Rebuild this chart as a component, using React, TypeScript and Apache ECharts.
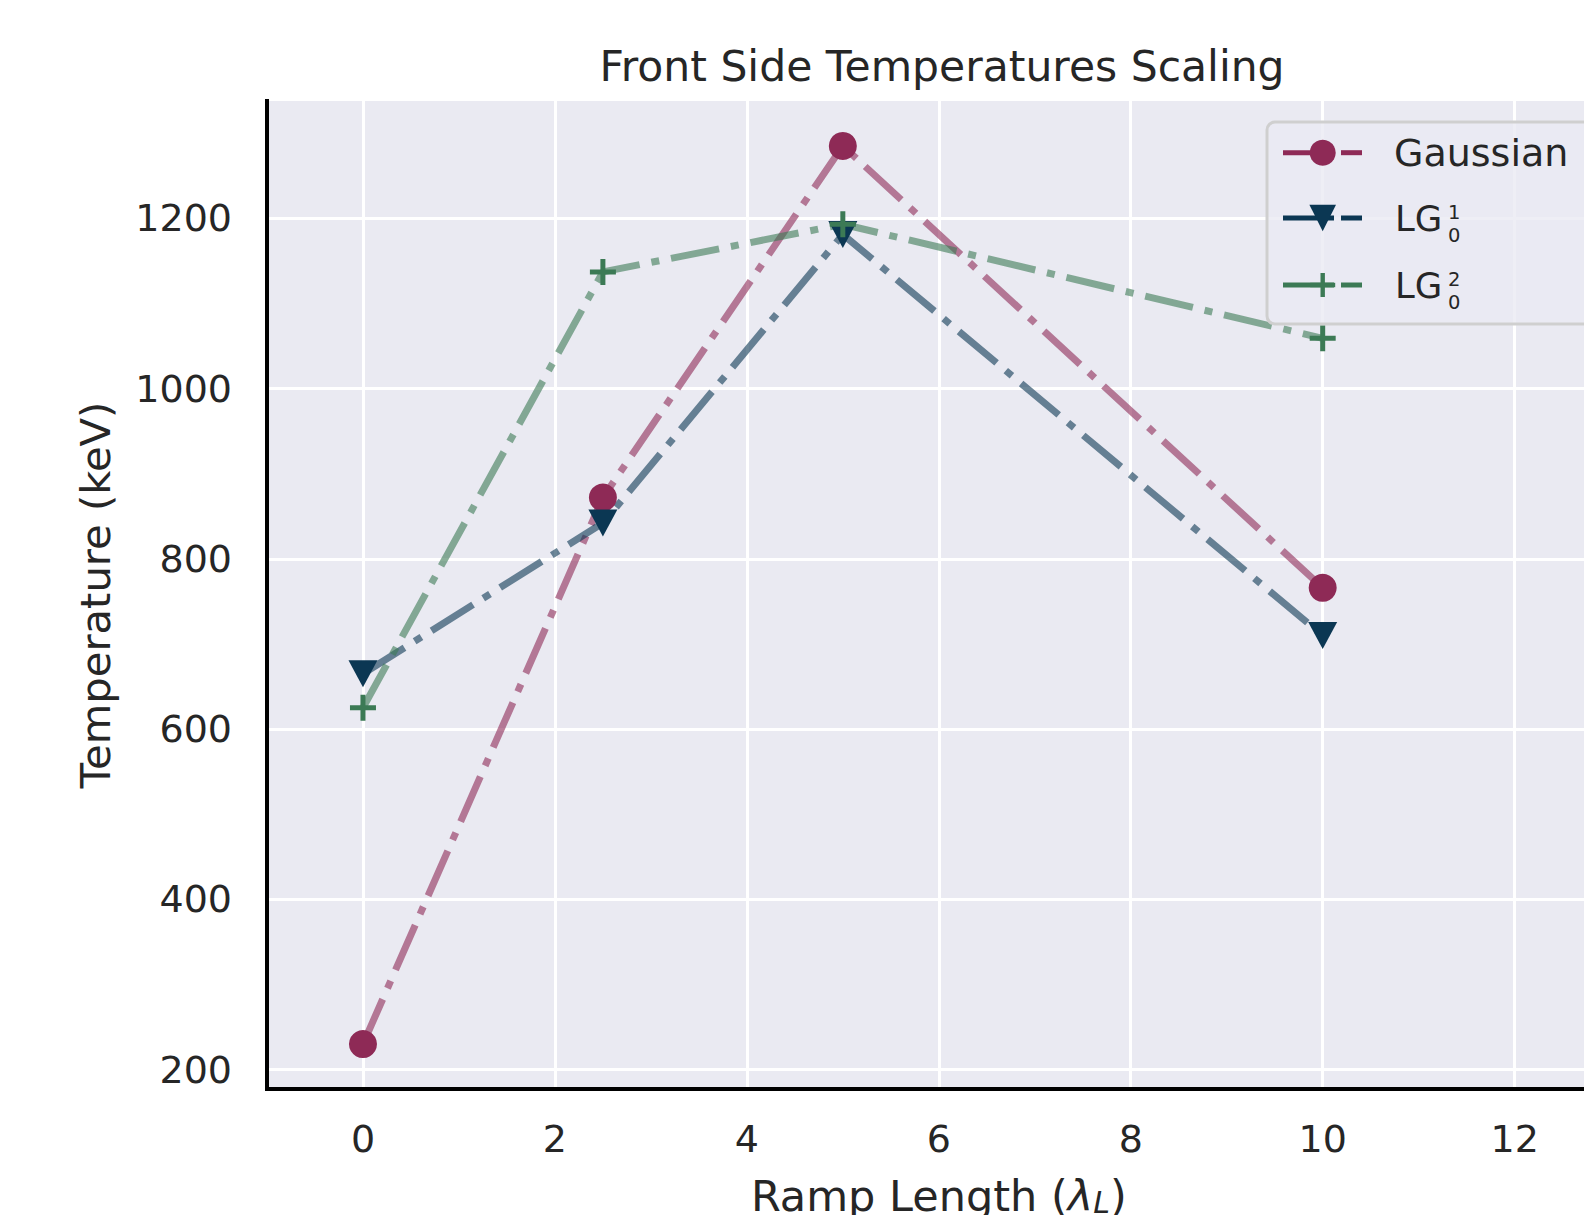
import React, { useEffect, useRef } from "react";
import * as echarts from "echarts";

// ---- data ----
const rampLength = [0, 2.5, 5, 10];
const gaussianTemp = [230, 872, 1285, 766];
const lg01Temp = [665, 842, 1181, 710];
const lg02Temp = [625, 1137, 1193, 1059];

const seriesNames = ["Gaussian", "LG\u2080\u00b9", "LG\u2080\u00b2"];
const titleText = "Front Side Temperatures Scaling";
const xName = "Ramp Length ({i|\u03bb}{sub|L})";
const yName = "Temperature (keV)";

const FONT = "'DejaVu Sans', 'Liberation Sans', sans-serif";
const TEXT = "#262626";
const C_GAUSS = "#8e2a56";
const C_LG1 = "#0b3753";
const C_LG2 = "#3c7a55";
const PLUS_PATH =
  "path://M10.5,0 H15.5 V10.5 H26 V15.5 H15.5 V26 H10.5 V15.5 H0 V10.5 H10.5 Z";

function makeSeries(
  name: string,
  ys: number[],
  color: string,
  symbol: string,
  size: number | number[],
  rotate: number
) {
  return {
    type: "line",
    name,
    data: rampLength.map((x, i) => [x, ys[i]]),
    symbol,
    symbolSize: size,
    symbolRotate: rotate,
    showSymbol: true,
    lineStyle: {
      color,
      opacity: 0.6,
      width: 7,
      type: [49, 12, 8, 12],
      cap: "butt",
    },
    itemStyle: { color, opacity: 1 },
    emphasis: { disabled: true },
  };
}

function legendGraphics() {
  const rows = [
    { main: "Gaussian", sup: "", sub: "", color: C_GAUSS, marker: "circle", y: 152.7 },
    { main: "LG", sup: "1", sub: "0", color: C_LG1, marker: "tri", y: 218 },
    { main: "LG", sup: "2", sub: "0", color: C_LG2, marker: "plus", y: 285 },
  ];
  const els: any[] = [
    {
      type: "rect",
      shape: { x: 1267, y: 122, width: 420, height: 202, r: 8 },
      style: { fill: "rgba(234,234,242,0.8)", stroke: "#cfcfcf", lineWidth: 3 },
      z: 100,
    },
  ];
  const cx = 1322.7;
  rows.forEach((r) => {
    els.push({
      type: "line",
      shape: { x1: 1283, y1: r.y, x2: 1334, y2: r.y },
      style: { stroke: r.color, lineWidth: 5 },
      z: 101,
    });
    els.push({
      type: "line",
      shape: { x1: 1341, y1: r.y, x2: 1362, y2: r.y },
      style: { stroke: r.color, lineWidth: 5 },
      z: 101,
    });
    if (r.marker === "circle") {
      els.push({ type: "circle", shape: { cx, cy: r.y, r: 13 }, style: { fill: r.color }, z: 102 });
    } else if (r.marker === "tri") {
      els.push({
        type: "polygon",
        shape: { points: [[cx - 13.3, r.y - 13.3], [cx + 13.3, r.y - 13.3], [cx, r.y + 13.3]] },
        style: { fill: r.color },
        z: 102,
      });
    } else {
      els.push({ type: "rect", shape: { x: cx - 12.5, y: r.y - 2.2, width: 25, height: 4.4 }, style: { fill: r.color }, z: 102 });
      els.push({ type: "rect", shape: { x: cx - 2.2, y: r.y - 12, width: 4.4, height: 24 }, style: { fill: r.color }, z: 102 });
    }
    if (r.sup) {
      els.push({
        type: "text",
        x: 1395,
        y: r.y,
        style: { text: r.main, fontSize: 35.5, fontFamily: FONT, fill: TEXT, align: "left", verticalAlign: "middle" },
        z: 103,
      });
      els.push({
        type: "text",
        x: 1448,
        y: r.y - 5.5,
        style: { text: r.sup, fontSize: 19.5, fontFamily: FONT, fill: TEXT, align: "left", verticalAlign: "middle" },
        z: 103,
      });
      els.push({
        type: "text",
        x: 1448,
        y: r.y + 17,
        style: { text: r.sub, fontSize: 19.5, fontFamily: FONT, fill: TEXT, align: "left", verticalAlign: "middle" },
        z: 103,
      });
    } else {
      els.push({
        type: "text",
        x: 1394,
        y: r.y,
        style: { text: r.main, fontSize: 38, fontFamily: FONT, fill: TEXT, align: "left", verticalAlign: "middle" },
        z: 103,
      });
    }
  });
  return els;
}

export default function App() {
  const ref = useRef<HTMLDivElement>(null);
  useEffect(() => {
    if (!ref.current) return;
    const chart = echarts.init(ref.current, null, { renderer: "svg" });
    const option: any = {
      animation: false,
      backgroundColor: "#ffffff",
      grid: {
        left: 267,
        top: 101,
        width: 1343.6,
        height: 988,
        show: true,
        backgroundColor: "#EAEAF2",
        borderWidth: 0,
        containLabel: false,
        outerBoundsMode: "none",
      },
      xAxis: {
        type: "value",
        min: -1,
        max: 13,
        splitNumber: 7,
        minInterval: 2,
        maxInterval: 2,
        axisLine: { show: true, onZero: false, lineStyle: { color: "#000", width: 4, cap: "square" } },
        axisTick: { show: false },
        axisLabel: {
          show: true,
          margin: 31,
          fontSize: 38,
          fontFamily: FONT,
          color: TEXT,
          showMinLabel: false,
          showMaxLabel: false,
          formatter: (v: number) => String(v),
        },
        splitLine: { show: true, showMinLine: false, showMaxLine: false, lineStyle: { color: "#ffffff", width: 3 } },
        name: xName,
        nameLocation: "middle",
        nameGap: 85,
        nameTextStyle: {
          fontSize: 43,
          fontFamily: FONT,
          color: TEXT,
          rich: {
            i: { fontSize: 43, fontFamily: FONT, fontStyle: "italic", color: TEXT },
            sub: { fontSize: 30, fontFamily: FONT, fontStyle: "italic", color: TEXT, verticalAlign: "bottom", lineHeight: 19 },
          },
        },
      },
      yAxis: {
        type: "value",
        min: 177.25,
        max: 1337.75,
        splitNumber: 5,
        minInterval: 200,
        maxInterval: 200,
        axisLine: { show: true, onZero: false, lineStyle: { color: "#000", width: 4, cap: "square" } },
        axisTick: { show: false },
        axisLabel: {
          show: true,
          margin: 35,
          fontSize: 38,
          fontFamily: FONT,
          color: TEXT,
          showMinLabel: false,
          showMaxLabel: false,
          formatter: (v: number) => String(v),
        },
        splitLine: { show: true, showMinLine: false, showMaxLine: false, lineStyle: { color: "#ffffff", width: 3 } },
        name: yName,
        nameLocation: "middle",
        nameGap: 151,
        nameRotate: 90,
        nameTextStyle: { fontSize: 41.7, fontFamily: FONT, color: TEXT },
      },
      series: [
        makeSeries(seriesNames[0], gaussianTemp, C_GAUSS, "circle", 28, 0),
        makeSeries(seriesNames[1], lg01Temp, C_LG1, "triangle", [29, 27], 180),
        makeSeries(seriesNames[2], lg02Temp, C_LG2, PLUS_PATH, [26, 26], 0),
      ],
      graphic: [
        {
          type: "text",
          x: 942,
          y: 66,
          style: {
            text: titleText,
            fontSize: 42.5,
            fontFamily: FONT,
            fill: TEXT,
            align: "center",
            verticalAlign: "middle",
          },
          z: 100,
        },
        ...legendGraphics(),
      ],
    };
    chart.setOption(option);
    return () => chart.dispose();
  }, []);
  return (
    <div
      ref={ref}
      style={{ position: "absolute", left: 0, top: 0, width: 1584, height: 1215, background: "#fff" }}
    />
  );
}
